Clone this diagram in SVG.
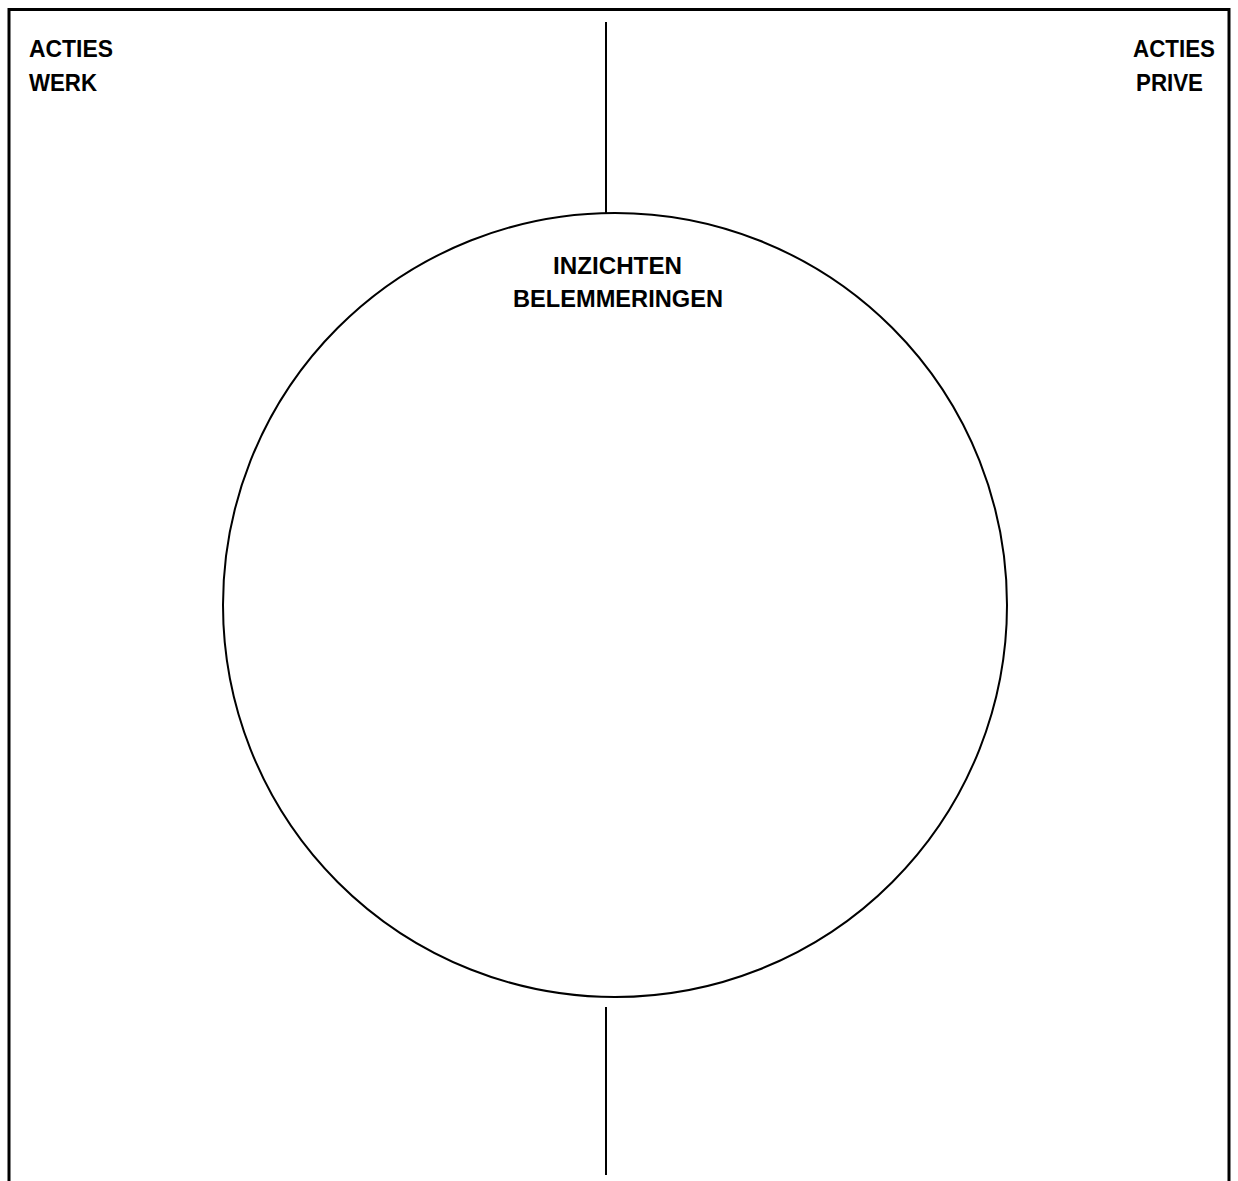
<svg xmlns="http://www.w3.org/2000/svg" width="1238" height="1181" viewBox="0 0 1238 1181">
<style>
.t{font-family:"Liberation Sans",Arial,sans-serif;font-weight:bold;font-size:23.5px;fill:#000}
.ln{stroke:#000;stroke-width:2;fill:none}
.frame{stroke:#000;stroke-width:3;fill:none}
</style>
<rect width="1238" height="1181" fill="#fff"/>
<g id="frame">
<path class="frame" d="M9,1181 V9.5 H1229 V1181"/>
</g>
<g id="acties-werk">
<text class="t" x="29" y="57" textLength="84" lengthAdjust="spacingAndGlyphs">ACTIES</text>
<text class="t" x="29" y="91" textLength="68" lengthAdjust="spacingAndGlyphs">WERK</text>
</g>
<g id="acties-prive">
<text class="t" x="1133" y="57" textLength="82" lengthAdjust="spacingAndGlyphs">ACTIES</text>
<text class="t" x="1136" y="91" textLength="67" lengthAdjust="spacingAndGlyphs">PRIVE</text>
</g>
<g id="inzichten">
<circle class="ln" cx="615" cy="605" r="392"/>
<text class="t" x="553" y="274" textLength="129" lengthAdjust="spacingAndGlyphs">INZICHTEN</text>
<text class="t" x="513" y="307" textLength="210" lengthAdjust="spacingAndGlyphs">BELEMMERINGEN</text>
</g>
<g id="connectors">
<line class="ln" x1="606" y1="22" x2="606" y2="213"/>
<line class="ln" x1="606" y1="1007" x2="606" y2="1175"/>
</g>
</svg>
